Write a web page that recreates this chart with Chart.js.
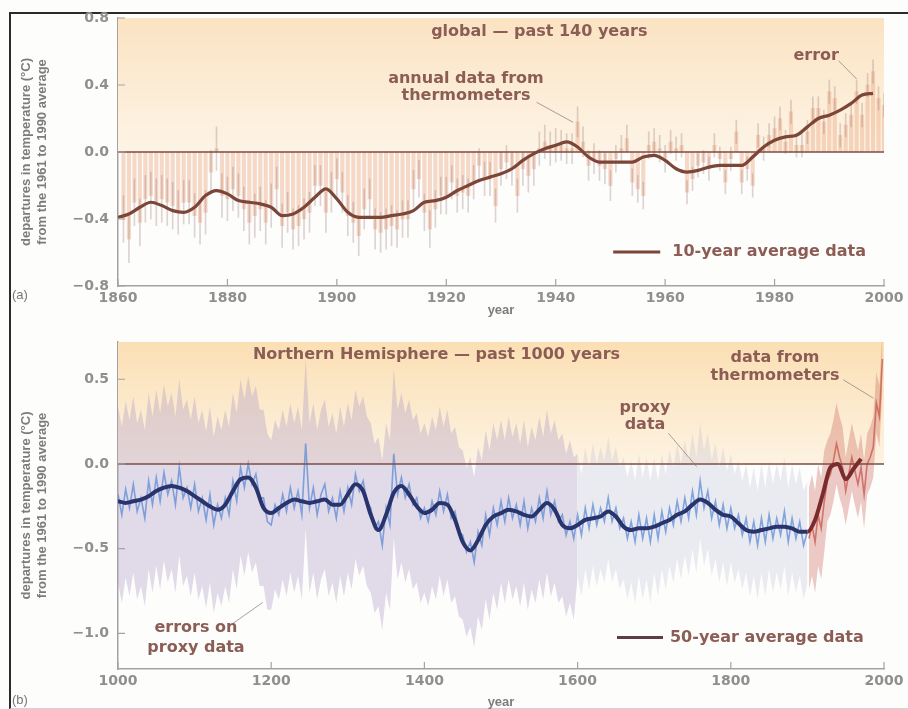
<!DOCTYPE html>
<html>
<head>
<meta charset="utf-8">
<script src="https://cdn.jsdelivr.net/npm/chart.js@4.4.1/dist/chart.umd.min.js"></script>
<style>
  html, body { margin: 0; padding: 0; background: #fdfdfc; }
  #wrap { position: relative; width: 908px; height: 709px; overflow: hidden; }
  #frame { position: absolute; left: 9px; top: 12px; width: 905px; height: 694px;
           border-top: 2px solid #2b2b2b; border-left: 2px solid #2b2b2b; border-bottom: 1px solid #d2d2d2; }
  canvas { position: absolute; left: 0; }
  #chartA { top: 0; }
  #chartB { top: 318px; }
</style>
</head>
<body>
<div id="wrap">
  <div id="frame"></div>
  <canvas id="chartA" width="908" height="318"></canvas>
  <canvas id="chartB" width="908" height="391"></canvas>
</div>
<script>
// ---- (a) global, past 140 years ----
const xTicksA = [1860, 1880, 1900, 1920, 1940, 1960, 1980, 2000];
const yTicksA = [-0.8, -0.4, 0, 0.4, 0.8];

// annual anomalies, 1861..2000
const annualStartA = 1861;
const annualA = [
  -0.40, -0.52, -0.30, -0.42, -0.28, -0.26, -0.30, -0.28, -0.30, -0.32,
  -0.36, -0.30, -0.30, -0.38, -0.42, -0.36, -0.12,  0.02, -0.26, -0.28,
  -0.22, -0.26, -0.34, -0.42, -0.38, -0.34, -0.42, -0.32, -0.22, -0.44,
  -0.36, -0.46, -0.44, -0.40, -0.36, -0.20, -0.20, -0.36, -0.24, -0.16,
  -0.24, -0.38, -0.42, -0.50, -0.34, -0.28, -0.46, -0.48, -0.46, -0.44,
  -0.46, -0.40, -0.40, -0.22, -0.16, -0.36, -0.46, -0.34, -0.26, -0.26,
  -0.18, -0.26, -0.24, -0.26, -0.18, -0.08, -0.16, -0.16, -0.32, -0.10,
  -0.06, -0.10, -0.26, -0.10, -0.14, -0.10,  0.02,  0.06,  0.02,  0.04,
   0.04,  0.02,  0.02,  0.18,  0.06, -0.08, -0.04, -0.08, -0.10, -0.20,
  -0.04,  0.02,  0.08, -0.18, -0.22, -0.26,  0.04,  0.06,  0.02, -0.04,
   0.06,  0.02,  0.04, -0.24, -0.16, -0.08, -0.06, -0.10,  0.04, -0.04,
  -0.18, -0.04,  0.12, -0.18, -0.10, -0.20,  0.10,  0.02,  0.10,  0.14,
   0.20,  0.06,  0.24,  0.04,  0.04,  0.12,  0.26,  0.26,  0.18,  0.36,
   0.32,  0.10,  0.16,  0.22,  0.36,  0.22,  0.40,  0.48,  0.32,  0.28
];
// half-width of the error bar, one value per decade
const annualErrA = [0.14, 0.13, 0.13, 0.12, 0.12, 0.11, 0.10, 0.10, 0.09, 0.08, 0.07, 0.07, 0.07, 0.07];

// 10-year smoothed curve, every 2 years from 1860
const smoothStartA = 1860, smoothStepA = 2;
const smoothA = [
  -0.39, -0.37, -0.33, -0.30, -0.32, -0.35, -0.36, -0.33, -0.26, -0.23,
  -0.25, -0.29, -0.30, -0.31, -0.33, -0.38, -0.37, -0.33, -0.27, -0.22,
  -0.28, -0.36, -0.39, -0.39, -0.39, -0.38, -0.37, -0.35, -0.30, -0.29,
  -0.27, -0.23, -0.20, -0.17, -0.15, -0.13, -0.10, -0.05, -0.01,  0.02,
   0.04,  0.06,  0.03, -0.03, -0.06, -0.06, -0.06, -0.06, -0.03, -0.02,
  -0.05, -0.10, -0.12, -0.11, -0.09, -0.08, -0.08, -0.08, -0.03,  0.03,
   0.07,  0.09,  0.10,  0.15,  0.20,  0.22,  0.25,  0.29,  0.34,  0.35
];

// ---- (b) Northern Hemisphere, past 1000 years ----
const xTicksB = [1000, 1200, 1400, 1600, 1800, 2000];
const yTicksB = [-1.0, -0.5, 0, 0.5];

// proxy reconstruction, every 5 years 1000..1900
const proxyStart = 1000, proxyStep = 5;
const proxyB = [
  -0.18, -0.30, -0.15, -0.26, -0.12, -0.28, -0.20, -0.32, -0.10, -0.24,
  -0.08, -0.22, -0.05, -0.18, -0.10, -0.24, -0.02, -0.20, -0.14, -0.26,
  -0.12, -0.28, -0.20, -0.33, -0.18, -0.36, -0.24, -0.32, -0.20, -0.30,
  -0.10, -0.22, -0.02, -0.14,  0.00, -0.12, -0.06, -0.20, -0.20, -0.34,
  -0.36, -0.24, -0.30, -0.18, -0.28, -0.14, -0.26, -0.16, -0.30,  0.12,
  -0.26, -0.14, -0.30, -0.18, -0.12, -0.28, -0.20, -0.32, -0.16, -0.28,
  -0.14, -0.24, -0.06, -0.16, -0.10, -0.22, -0.26, -0.38, -0.34, -0.48,
  -0.26, -0.36,  0.06, -0.18, -0.08, -0.20, -0.12, -0.24, -0.20, -0.32,
  -0.26, -0.34, -0.22, -0.30, -0.16, -0.28, -0.18, -0.32, -0.28, -0.40,
  -0.42, -0.52, -0.46, -0.58, -0.40, -0.48, -0.30, -0.42, -0.26, -0.36,
  -0.22, -0.34, -0.20, -0.32, -0.24, -0.36, -0.22, -0.38, -0.26, -0.34,
  -0.20, -0.32, -0.16, -0.30, -0.22, -0.34, -0.30, -0.42, -0.34, -0.44,
  -0.30, -0.42, -0.26, -0.38, -0.24, -0.36, -0.26, -0.34, -0.20, -0.34,
  -0.26, -0.38, -0.32, -0.44, -0.34, -0.46, -0.30, -0.44, -0.32, -0.46,
  -0.30, -0.44, -0.28, -0.40, -0.26, -0.36, -0.22, -0.34, -0.20, -0.32,
  -0.16, -0.30, -0.10, -0.26, -0.16, -0.32, -0.22, -0.36, -0.24, -0.38,
  -0.26, -0.38, -0.30, -0.42, -0.32, -0.46, -0.34, -0.48, -0.32, -0.46,
  -0.30, -0.44, -0.32, -0.42, -0.28, -0.46, -0.32, -0.44, -0.34, -0.48,
  -0.40
];
// uncertainty half-width of the proxy series, one value per century
const proxyErrB = [0.52, 0.52, 0.50, 0.50, 0.50, 0.48, 0.36, 0.34, 0.32, 0.30];

// instrumental record
const thermYears = [1902, 1906, 1910, 1914, 1918, 1922, 1926, 1930, 1934, 1938, 1942, 1946, 1950,
                    1954, 1958, 1962, 1966, 1970, 1974, 1978, 1982, 1986, 1990, 1994, 1998];
const thermB = [-0.44, -0.36, -0.46, -0.30, -0.38, -0.22, -0.10, -0.06, 0.02, 0.12, 0.04, -0.02, -0.16,
                -0.06, 0.04, -0.04, -0.12, -0.02, -0.18, 0.00, 0.04, 0.10, 0.36, 0.28, 0.62];
const thermErrB = [0.30, 0.24, 0.20, 0.18];   // per quarter century

// 50-year smoothed curve, every 10 years from 1000
const smoothStartB = 1000, smoothStepB = 10;
const smoothB = [
  -0.22, -0.23, -0.22, -0.21, -0.19, -0.16, -0.14, -0.13, -0.14, -0.16,
  -0.19, -0.22, -0.25, -0.27, -0.24, -0.16, -0.09, -0.08, -0.14, -0.26,
  -0.29, -0.26, -0.23, -0.21, -0.22, -0.23, -0.22, -0.21, -0.24, -0.24,
  -0.18, -0.12, -0.16, -0.30, -0.39, -0.30, -0.17, -0.13, -0.18, -0.25,
  -0.29, -0.27, -0.23, -0.24, -0.33, -0.46, -0.51, -0.45, -0.36, -0.31,
  -0.29, -0.27, -0.28, -0.30, -0.31, -0.27, -0.23, -0.27, -0.36, -0.38,
  -0.36, -0.33, -0.32, -0.31, -0.28, -0.31, -0.37, -0.39, -0.38, -0.38,
  -0.37, -0.35, -0.33, -0.30, -0.28, -0.24, -0.21, -0.23, -0.27, -0.30,
  -0.31, -0.35, -0.39, -0.40, -0.39, -0.38, -0.37, -0.37, -0.38, -0.40,
  -0.40, -0.33, -0.18, -0.02,  0.00, -0.09, -0.03,  0.03
];

// ---- build point lists ----
const annualPts = annualA.map((v, i) => ({ x: annualStartA + i, y: v }));
const errBarPts = annualA.map((v, i) => {
  const e = annualErrA[Math.floor(i / 10)];
  return { x: annualStartA + i, y: [v - e, v + e] };
});
const smoothPtsA = smoothA.map((v, i) => ({ x: smoothStartA + i * smoothStepA, y: v }));

const proxyPts = proxyB.map((v, i) => ({ x: proxyStart + i * proxyStep, y: v }));
const errAt = yr => proxyErrB[Math.min(Math.floor((yr - 1000) / 100), proxyErrB.length - 1)];
const bandHi = proxyPts.map(p => ({ x: p.x, y: p.y + errAt(p.x) }));
const bandLo = proxyPts.map(p => ({ x: p.x, y: p.y - errAt(p.x) }));
const early = p => p.x <= 1600, late = p => p.x >= 1600;
const thermPts = thermB.map((v, i) => ({ x: thermYears[i], y: v }));
const thermErr = yr => thermErrB[Math.min(Math.floor((yr - 1900) / 25), thermErrB.length - 1)];
const thermHi = thermPts.map(p => ({ x: p.x, y: p.y + thermErr(p.x) }));
const thermLo = thermPts.map(p => ({ x: p.x, y: p.y - thermErr(p.x) }));
const smoothPtsB = smoothB.map((v, i) => ({ x: smoothStartB + i * smoothStepB, y: v }));

// ---- shared look ----
const NOTE_FONT = 'bold 16px "DejaVu Sans", sans-serif';
const NOTE_COLOR = '#8c5d55';
const AXIS_GREY = '#7c7c7c';

const fmtY = v => (v < 0 ? '\u2212' : '') + Math.abs(v).toFixed(1);

function makeScales(xMin, xMax, yMin, yMax, xTicks, yTicks, xBoxH, xTitlePad) {
  const border = { display: true, color: '#a7a2a2', width: 1.5 };
  return {
    x: {
      type: 'linear', min: xMin, max: xMax, offset: false,
      afterBuildTicks: s => { s.ticks = xTicks.map(v => ({ value: v })); },
      afterFit: s => { s.height = xBoxH; },
      grid: { display: false, drawTicks: false },
      border: border,
      ticks: { padding: 4, color: '#8f8f8f', font: { family: 'DejaVu Sans', size: 14, weight: 'bold' },
               maxRotation: 0, callback: v => String(v) },
      title: { display: true, text: 'year', color: AXIS_GREY, padding: { top: 0, bottom: xTitlePad },
               font: { family: 'Liberation Sans', size: 13, weight: 'bold', lineHeight: 1 } }
    },
    y: {
      min: yMin, max: yMax,
      afterBuildTicks: s => { s.ticks = yTicks.map(v => ({ value: v })); },
      afterFit: s => { s.width = 118; },
      grid: { display: false, drawTicks: false },
      border: border,
      ticks: { padding: 9, color: '#8f8f8f', font: { family: 'DejaVu Sans', size: 14, weight: 'bold' },
               callback: fmtY },
      title: { display: true, text: ['departures in temperature (\u00B0C)', 'from the 1961 to 1990 average'],
               color: AXIS_GREY, padding: { top: 19, bottom: 0 },
               font: { family: 'Liberation Sans', size: 13, weight: 'bold' } }
    }
  };
}

// warm background above zero, inward ticks, notes, key and panel letter
const decor = {
  id: 'decor',
  beforeDatasetsDraw(chart, args, o) {
    const { ctx, chartArea: a, scales: { y } } = chart;
    const y0 = y.getPixelForValue(0);
    const g = ctx.createLinearGradient(0, a.top, 0, y0);
    g.addColorStop(0, o.warmTop);
    g.addColorStop(1, o.warmBottom);
    ctx.save();
    ctx.fillStyle = g;
    ctx.fillRect(a.left, a.top, a.right - a.left, y0 - a.top);
    ctx.restore();
  },
  afterDatasetsDraw(chart, args, o) {
    const { ctx, chartArea: a, scales: { x, y } } = chart;
    const px = v => x.getPixelForValue(v), py = v => y.getPixelForValue(v);
    ctx.save();
    // tick marks pointing into the plot
    ctx.strokeStyle = '#a7a2a2';
    ctx.lineWidth = 1.2;
    ctx.beginPath();
    o.yTicks.forEach(v => { ctx.moveTo(a.left, py(v)); ctx.lineTo(a.left + 7, py(v)); });
    o.xTicks.forEach(v => { ctx.moveTo(px(v), a.bottom); ctx.lineTo(px(v), a.bottom - 7); });
    ctx.stroke();

    // leader lines
    ctx.strokeStyle = 'rgba(140,120,115,0.7)';
    ctx.lineWidth = 1;
    ctx.beginPath();
    o.leaders.forEach(l => { ctx.moveTo(px(l[0]), py(l[1])); ctx.lineTo(px(l[2]), py(l[3])); });
    ctx.stroke();

    // text notes
    ctx.font = NOTE_FONT;
    ctx.fillStyle = NOTE_COLOR;
    ctx.textAlign = 'center';
    ctx.textBaseline = 'middle';
    o.notes.forEach(n => ctx.fillText(n.text, px(n.x), py(n.y)));

    // key for the smoothed curve
    const k = o.key;
    ctx.strokeStyle = k.color;
    ctx.lineWidth = 3;
    ctx.beginPath();
    ctx.moveTo(px(k.x1), py(k.y));
    ctx.lineTo(px(k.x2), py(k.y));
    ctx.stroke();
    ctx.textAlign = 'left';
    ctx.fillText(k.text, px(k.tx), py(k.y));

    // panel letter
    ctx.font = '13px "Liberation Sans", sans-serif';
    ctx.fillStyle = '#777';
    ctx.fillText(o.letter.text, o.letter.x, o.letter.y);
    ctx.restore();
  }
};

const baseOpts = {
  responsive: false,
  animation: false,
  events: []
};

// ---- chart (a) ----
new Chart(document.getElementById('chartA'), {
  type: 'line',
  data: {
    datasets: [
      { type: 'bar', data: annualPts, backgroundColor: 'rgba(238,170,136,0.45)',
        barThickness: 3.5, grouped: false, order: 5 },
      { type: 'bar', data: errBarPts, backgroundColor: 'rgba(140,105,100,0.28)',
        barThickness: 1, grouped: false, order: 4 },
      { data: [{ x: 1860, y: 0 }, { x: 2000, y: 0 }], borderColor: '#7e4c44', borderWidth: 1.6,
        pointRadius: 0, order: 2 },
      { data: smoothPtsA, borderColor: '#7b4537', borderWidth: 3.2, pointRadius: 0,
        tension: 0.4, cubicInterpolationMode: 'monotone', order: 1 }
    ]
  },
  options: Object.assign({}, baseOpts, {
    layout: { padding: { left: 0, right: 24, top: 18, bottom: 0 } },
    scales: makeScales(1860, 2000, -0.8, 0.8, xTicksA, yTicksA, 32, 1.5),
    plugins: {
      legend: { display: false },
      tooltip: { enabled: false },
      decor: {
        warmTop: '#fbe3c2', warmBottom: '#fdf4e6',
        xTicks: xTicksA, yTicks: yTicksA,
        notes: [
          { text: 'global \u2014 past 140 years', x: 1937, y: 0.716 },
          { text: 'annual data from', x: 1923.6, y: 0.436 },
          { text: 'thermometers', x: 1923.6, y: 0.334 },
          { text: 'error', x: 1987.6, y: 0.573 }
        ],
        leaders: [[1936.5, 0.297, 1943.2, 0.177], [1991.7, 0.545, 1995.0, 0.436]],
        key: { x1: 1950.5, x2: 1959.1, y: -0.597, tx: 1961.3, text: '10-year average data', color: '#7b4537' },
        letter: { text: '(a)', x: 12, y: 295 }
      }
    }
  }),
  plugins: [decor]
});

// ---- chart (b) ----
new Chart(document.getElementById('chartB'), {
  type: 'line',
  data: {
    datasets: [
      { data: bandHi.filter(early), borderWidth: 0, pointRadius: 0, fill: '+1',
        backgroundColor: 'rgba(176,156,196,0.36)', order: 9 },
      { data: bandLo.filter(early), borderWidth: 0, pointRadius: 0, fill: false, order: 9 },
      { data: bandHi.filter(late), borderWidth: 0, pointRadius: 0, fill: '+1',
        backgroundColor: 'rgba(168,170,205,0.22)', order: 8 },
      { data: bandLo.filter(late), borderWidth: 0, pointRadius: 0, fill: false, order: 8 },
      { data: thermHi, borderWidth: 0, pointRadius: 0, fill: '+1',
        backgroundColor: 'rgba(205,108,96,0.36)', order: 7 },
      { data: thermLo, borderWidth: 0, pointRadius: 0, fill: false, order: 7 },
      { data: proxyPts, borderColor: 'rgba(88,136,212,0.72)', borderWidth: 1.6, pointRadius: 0, order: 6 },
      { data: thermPts, borderColor: 'rgba(195,80,68,0.7)', borderWidth: 1.6, pointRadius: 0, order: 5 },
      { data: [{ x: 1000, y: 0 }, { x: 2000, y: 0 }], borderColor: '#7e4c44', borderWidth: 1.6,
        pointRadius: 0, order: 2 },
      { data: smoothPtsB, borderWidth: 4, pointRadius: 0, tension: 0.4, cubicInterpolationMode: 'monotone',
        borderColor: '#28346b',
        segment: { borderColor: c => (c.p0.parsed.x >= 1900 ? '#7a2b2d' : '#28346b') }, order: 1 }
    ]
  },
  options: Object.assign({}, baseOpts, {
    layout: { padding: { left: 0, right: 24, top: 24, bottom: 0 } },
    scales: makeScales(1000, 2000, -1.21, 0.72, xTicksB, yTicksB, 40, 0),
    plugins: {
      legend: { display: false },
      tooltip: { enabled: false },
      decor: {
        warmTop: '#fbdfb4', warmBottom: '#fdf3e2',
        xTicks: xTicksB, yTicks: yTicksB,
        notes: [
          { text: 'Northern Hemisphere \u2014 past 1000 years', x: 1415.8, y: 0.645 },
          { text: 'data from', x: 1857.7, y: 0.627 },
          { text: 'thermometers', x: 1857.7, y: 0.521 },
          { text: 'proxy', x: 1688, y: 0.331 },
          { text: 'data', x: 1688, y: 0.231 },
          { text: 'errors on', x: 1101.8, y: -0.970 },
          { text: 'proxy data', x: 1101.8, y: -1.083 }
        ],
        leaders: [[1946.9, 0.497, 1986.0, 0.389], [1718.4, 0.182, 1755.4, -0.016], [1150, -0.941, 1189, -0.817]],
        key: { x1: 1651.4, x2: 1711.5, y: -1.024, tx: 1720.6, text: '50-year average data', color: '#5c3d48' },
        letter: { text: '(b)', x: 12, y: 382 }
      }
    }
  }),
  plugins: [decor]
});
</script>
</body>
</html>
